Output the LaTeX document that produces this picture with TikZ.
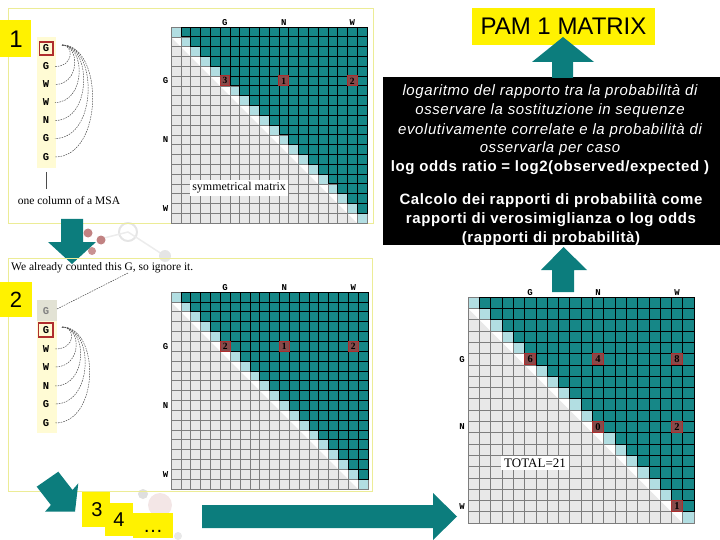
\documentclass[tikz,border=0pt]{standalone}
\usepackage{fontspec}
\setmainfont{Liberation Serif}
\newfontfamily\arial{Liberation Sans}
\newfontfamily\arialw[LetterSpace=4]{Liberation Sans}
\newfontfamily\cour{Liberation Mono}
\definecolor{tealc}{RGB}{22,135,135}
\definecolor{tealar}{RGB}{12,125,125}
\definecolor{diagc}{RGB}{178,222,226}
\definecolor{lgray}{RGB}{232,232,232}
\definecolor{gline}{RGB}{125,125,125}
\definecolor{redb}{RGB}{175,45,45}
\definecolor{redf}{RGB}{135,75,75}
\definecolor{pyel}{RGB}{236,236,150}
\definecolor{colbg}{RGB}{255,251,212}
\definecolor{gbg}{RGB}{226,226,212}
\definecolor{dotred}{RGB}{172,88,88}
\newcommand{\pamgrid}{%
 \foreach \i in {1,...,19}{\pgfmathtruncatemacro\jm{\i-1}\foreach \j in {0,...,\jm}{\fill[lgray] (\j,\i) rectangle ++(1,1);}}
 \foreach \i in {1,...,19}{\pgfmathtruncatemacro\jm{\i-1}\fill[white] (\jm,\i) -- ++(1,0) -- ++(0,1) -- cycle;}
 \foreach \i in {1,...,19}{\pgfmathtruncatemacro\jm{\i-1}\foreach \j in {0,...,\jm}{\draw[gline,line width=.55pt] (\j,\i) rectangle ++(1,1);}}
 \foreach \i in {0,...,19}{\filldraw[fill=diagc,draw=gline,line width=.55pt] (\i,\i) rectangle ++(1,1);}
 \foreach \i in {0,...,18}{\pgfmathtruncatemacro\jp{\i+1}\foreach \j in {\jp,...,19}{\filldraw[fill=tealc,draw=black,line width=.6pt] (\j,\i) rectangle ++(1,1);}}
}
\newcommand{\rcell}[5]{%
 \filldraw[fill=redf,draw=redb,line width=1pt] (#1,#2) rectangle ++(1,1);
 \node[font=\bfseries\fontsize{#4}{#4}\selectfont,inner sep=0pt] (#5) at (#1+.5,#2+.5) {#3};}
\tikzset{
 mlab/.style={font=\cour\bfseries\fontsize{9}{9}\selectfont,inner sep=1pt},
 msa/.style={font=\cour\bfseries\fontsize{10.5}{11}\selectfont,inner sep=0pt},
 ybox/.style={fill=yellow},
 bigno/.style={font=\arial\fontsize{22}{22}\selectfont,inner sep=0pt},
 wline/.style={text=white,inner sep=0pt},
 itl/.style={font=\arialw\itshape\fontsize{15}{16}\selectfont},
 bfl/.style={font=\arialw\bfseries\fontsize{15}{16}\selectfont},
 arcd/.style={gray!60!black,line width=.5pt,dash pattern=on 1.6pt off 1pt},
 blockar/.style={fill=tealar}
}
\begin{document}
\begin{tikzpicture}[x=1pt,y=-1pt]
\useasboundingbox (0,0) rectangle (720,540);
% faint background decorations
\draw[gray!20,line width=2pt] (128,232) circle (9);
\draw[gray!15,line width=1.5pt] (104,238) -- (128,232) -- (165,256);
\fill[dotred!75] (88,233) circle (4.5);
\fill[dotred!75] (101,240) circle (4.5);
\fill[dotred!65] (92,251) circle (4);
\fill[gray!20] (165,256) circle (6);
\fill[gray!25] (143,494) circle (5);
\fill[gray!18] (178,536) circle (4);
\fill[dotred!15] (160,505) circle (12);
% ===== panel 1 =====
\draw[pyel,line width=1pt] (8,9) rectangle (373,224);
\node[ybox,minimum width=31pt,minimum height=37pt,inner sep=0pt] (b1) at (15.5,38.5) {};
\node[bigno,font=\arial\fontsize{24}{24}\selectfont] (n1) at (16,39) {1};
\fill[colbg] (37,37) rectangle (56,168);
\draw[redb,line width=1.2pt] (39.5,42) rectangle (53,55);
\node[msa] (a1) at (46,48.5) {G};
\node[msa] (a2) at (46,66.5) {G};
\node[msa] (a3) at (46,84.5) {W};
\node[msa] (a4) at (46,102.5) {W};
\node[msa] (a5) at (46,120.5) {N};
\node[msa] (a6) at (46,138.5) {G};
\node[msa] (a7) at (46,157) {G};
\foreach \k/\b in {2/12,3/18,4/24,5/30,6/36,7/42}{
  \draw[arcd] (62,45) .. controls (62+\b,45) and (62+\b,0|-a\k) .. ([xshift=9pt]a\k.center);
}
\coordinate (colend) at (46,172);
\node[font=\fontsize{11.5}{12}\selectfont,inner sep=0pt] (msacap) at (69,201) {one column of a MSA};
\draw[gray!60!black,line width=.5pt] (colend) -- (46,189);
% matrix 1
\begin{scope}[shift={(171,27)},x=9.8pt,y=-9.8pt]
 \pamgrid
 \rcell{5}{5}{3}{9.5}{m1a}
 \rcell{11}{5}{1}{9.5}{m1b}
 \rcell{18}{5}{2}{9.5}{m1c}
 \node[mlab,anchor=south] (c1g) at (5.5,0) {G};
 \node[mlab,anchor=south] (c1n) at (11.5,0) {N};
 \node[mlab,anchor=south] (c1w) at (18.5,0) {W};
 \node[mlab,anchor=east,inner sep=2.5pt] (r1g) at (0,5.5) {G};
 \node[mlab,anchor=east,inner sep=2.5pt] (r1n) at (0,11.5) {N};
 \node[mlab,anchor=east,inner sep=2.5pt] (r1w) at (0,18.5) {W};
 \node[fill=white,inner sep=2.5pt,font=\fontsize{12}{12}\selectfont] (sym) at (6.95,16.4) {symmetrical matrix};
\end{scope}
% arrow 1 -> 2
\fill[blockar] (61,219) -- (83,219) -- (83,242) -- (96,242) -- (72,264) -- (48,242) -- (61,242) -- cycle;
% ===== panel 2 =====
\draw[pyel,line width=1pt] (8,258) rectangle (372,491);
\node[anchor=west,inner sep=0pt,font=\fontsize{11.5}{12}\selectfont] (note) at (11,268) {We already counted this G, so ignore it.};
\node[ybox,minimum width=32pt,minimum height=35pt,inner sep=0pt] (b2) at (16,299.5) {};
\node[bigno] (n2) at (16,300) {2};
\fill[colbg] (37,300) rectangle (57,433);
\fill[gbg] (37,300) rectangle (57,321);
\draw[redb,line width=1.2pt] (38.5,323) rectangle (53,337);
\node[msa,text=gray] (g1) at (46,311) {G};
\node[msa] (g2) at (46,330) {G};
\node[msa] (g3) at (46,349) {W};
\node[msa] (g4) at (46,367) {W};
\node[msa] (g5) at (46,386) {N};
\node[msa] (g6) at (46,404) {G};
\node[msa] (g7) at (46,423) {G};
\coordinate (noteend) at (128,273);
\draw[arcd] ([xshift=11pt,yshift=2pt]g1.center) -- (noteend);
\foreach \k/\b in {3/14,4/20,5/26,6/32,7/38}{
  \draw[arcd] (62,327) .. controls (62+\b,327) and (62+\b,0|-g\k) .. ([xshift=9pt]g\k.center);
}
% matrix 2
\begin{scope}[shift={(171,292)},x=9.85pt,y=-9.85pt]
 \pamgrid
 \rcell{5}{5}{2}{9.5}{m2a}
 \rcell{11}{5}{1}{9.5}{m2b}
 \rcell{18}{5}{2}{9.5}{m2c}
 \node[mlab,anchor=south] (c2g) at (5.5,0) {G};
 \node[mlab,anchor=south] (c2n) at (11.5,0) {N};
 \node[mlab,anchor=south] (c2w) at (18.5,0) {W};
 \node[mlab,anchor=east,inner sep=2.5pt] (r2g) at (0,5.5) {G};
 \node[mlab,anchor=east,inner sep=2.5pt] (r2n) at (0,11.5) {N};
 \node[mlab,anchor=east,inner sep=2.5pt] (r2w) at (0,18.5) {W};
\end{scope}
% diagonal arrow
\fill[blockar] (36.7,486.7) -- (58.3,471.7) -- (72.5,490) -- (78.3,483.3) -- (75,511.7) -- (45,511.7) -- (50.9,505) -- cycle;
% 3 4 ... boxes
\fill[yellow] (82,492) rectangle (110,527);
\fill[yellow] (105,503) rectangle (133,536);
\fill[yellow] (133,513) rectangle (173,538);
\node[bigno,font=\arial\fontsize{20}{20}\selectfont] (n3) at (97,510) {3};
\node[bigno,font=\arial\fontsize{20}{20}\selectfont] (n4) at (119,520) {4};
\node[bigno,font=\arial\fontsize{20}{20}\selectfont,anchor=base] (n5) at (153,532) {\dots};
% right arrow
\fill[blockar] (202,505) -- (433,505) -- (433,493) -- (457,516.5) -- (433,540) -- (433,528) -- (202,528) -- cycle;
% ===== matrix 3 =====
\begin{scope}[shift={(468,297)},x=11.3pt,y=-11.3pt]
 \pamgrid
 \rcell{5}{5}{6}{10.5}{m3a}
 \rcell{11}{5}{4}{10.5}{m3b}
 \rcell{18}{5}{8}{10.5}{m3c}
 \rcell{11}{11}{0}{10.5}{m3d}
 \rcell{18}{11}{2}{10.5}{m3e}
 \rcell{18}{18}{1}{10.5}{m3f}
 \node[mlab,anchor=south] (c3g) at (5.5,0) {G};
 \node[mlab,anchor=south] (c3n) at (11.5,0) {N};
 \node[mlab,anchor=south] (c3w) at (18.5,0) {W};
 \node[mlab,anchor=east,inner sep=3pt] (r3g) at (0,5.5) {G};
 \node[mlab,anchor=east,inner sep=3pt] (r3n) at (0,11.5) {N};
 \node[mlab,anchor=east,inner sep=3pt] (r3w) at (0,18.5) {W};
 \node[fill=white,inner sep=3pt,font=\fontsize{13}{13}\selectfont] (tot) at (5.93,14.7) {TOTAL=21};
\end{scope}
% ===== black box =====
\fill[black] (383,77) rectangle (720,245);
\node[wline,itl] (t1) at (550,92) {logaritmo del rapporto tra la probabilità di};
\node[wline,itl] (t2) at (550,111) {osservare la sostituzione in sequenze};
\node[wline,itl] (t3) at (550,131) {evolutivamente correlate e la probabilità di};
\node[wline,itl] (t4) at (550,149) {osservarla per caso};
\node[wline,bfl] (t5) at (550,168) {log odds ratio = log2(observed/expected )};
\node[wline,bfl] (t6) at (551,201) {Calcolo dei rapporti di probabilità come};
\node[wline,bfl] (t7) at (551,220) {rapporti di verosimiglianza o log odds};
\node[wline,bfl] (t8) at (551,239) {(rapporti di probabilità)};
% PAM box
\node[fill=yellow,minimum width=183pt,minimum height=37pt,inner sep=0pt,font=\arial\fontsize{24}{24}\selectfont] (pam) at (563.5,26.5) {PAM 1 MATRIX};
% up arrows
\fill[blockar] (552,78) -- (552,62) -- (532,62) -- (563,37) -- (594,62) -- (573,62) -- (573,78) -- cycle;
\fill[blockar] (552,292) -- (552,270) -- (541,270) -- (563.5,247) -- (587,270) -- (574,270) -- (574,292) -- cycle;
\end{tikzpicture}
\end{document}
